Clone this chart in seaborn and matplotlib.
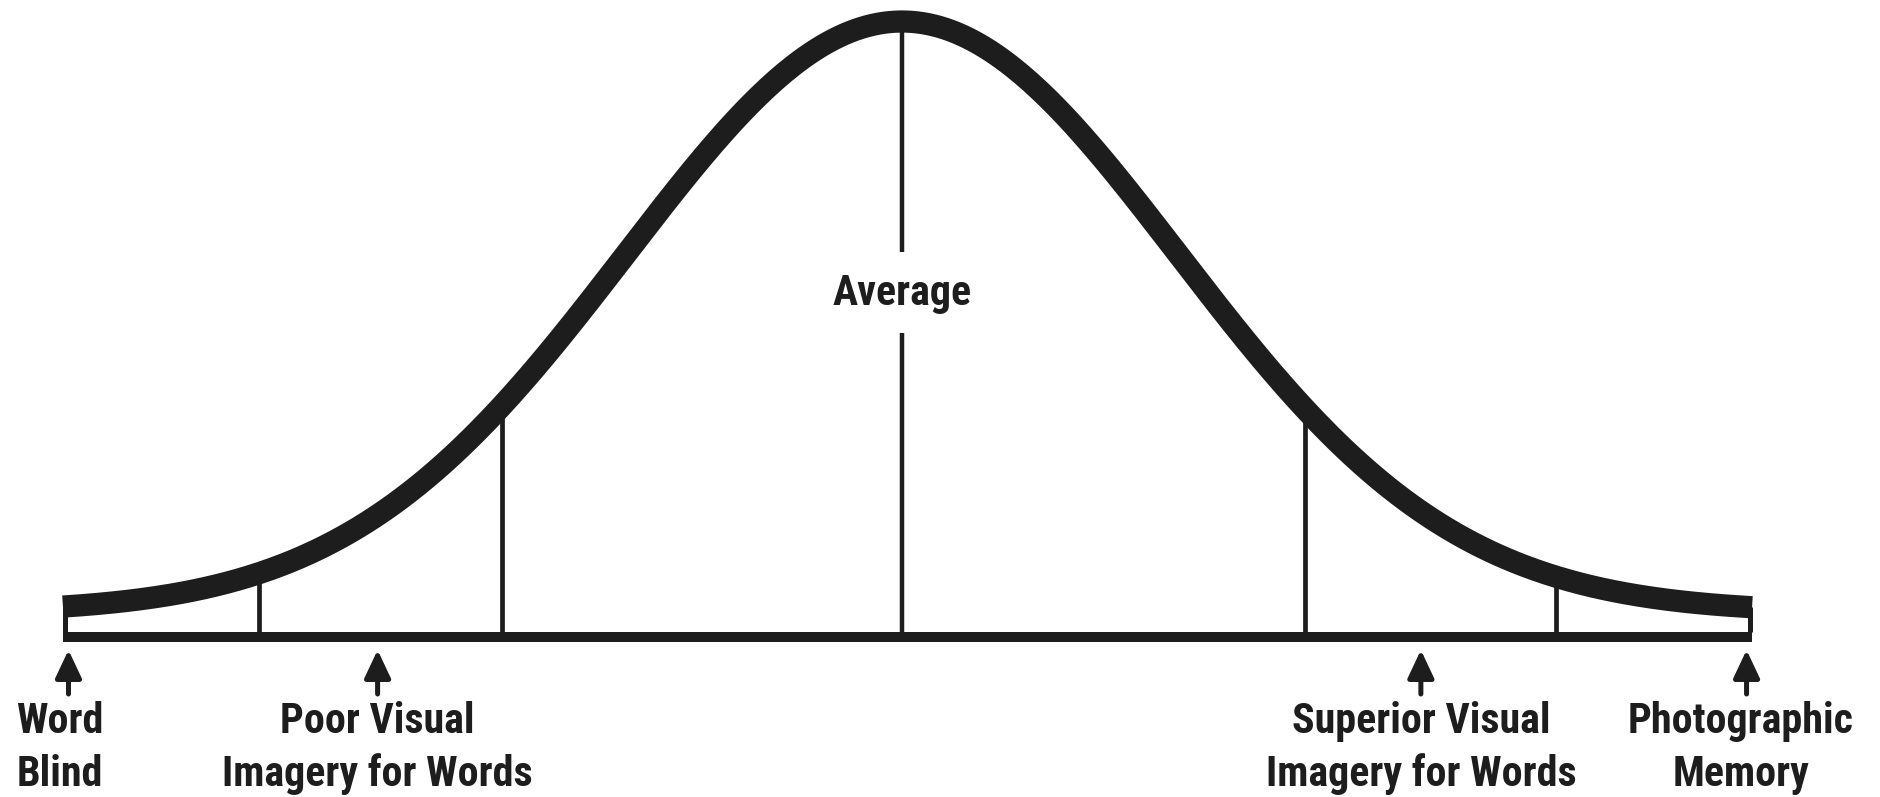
import numpy as np
import pandas as pd
import matplotlib.pyplot as plt
import seaborn as sns
from matplotlib import font_manager
from matplotlib.patches import ArrowStyle

sns.set_theme(style="white")

# bell curve, x in SD units
curve_mean = 0.0
curve_sd = 1.0
curve_ends = [-3.04, 3.08]      # where the thick curve is cut off
curve_floor = 0.04              # the tails stay a little above the baseline

# thin dividers under the curve
divider_z = [-2.33, -1.45, 1.46, 2.37]

# arrows and labels under the baseline
arrow_z = [-3.02, -1.90, 1.88, 3.06]
label_z = [-3.05, -1.90, 1.88, 3.04]
label_lines = [
    ["Word", "Blind"],
    ["Poor Visual", "Imagery for Words"],
    ["Superior Visual", "Imagery for Words"],
    ["Photographic", "Memory"],
]
center_label = "Average"

INK = "#1d1d1d"

# pixel geometry of the original picture
W, H = 1881, 797
PX_PER_SD = 276.0
CENTER_COL = 902.0
BASE_ROW = 637.0
PEAK_H = 615.5


def row(r):
    # picture row (from top) -> data y (baseline = 0, peak = 1)
    return (BASE_ROW - r) / PEAK_H


def bell(z):
    g = np.exp(-0.5 * ((z - curve_mean) / curve_sd) ** 2)
    return curve_floor + (1 - curve_floor) * g


# a narrow bold sans, like the original; needs a real bold face
bold_faces = {f.name for f in font_manager.fontManager.ttflist
              if f.weight in (700, "bold") and f.style == "normal"}
font = "Liberation Sans"
for cand in ["Liberation Sans Narrow", "Roboto Condensed", "Archivo Narrow",
             "PT Sans Narrow", "Pragati Narrow", "Fira Sans Condensed"]:
    if cand in bold_faces:
        font = cand
        break

fig = plt.figure(figsize=(W / 100, H / 100), dpi=100)
ax = fig.add_axes([0, 0, 1, 1])
ax.set_xlim(-CENTER_COL / PX_PER_SD, (W - CENTER_COL) / PX_PER_SD)
ax.set_ylim(row(H), row(0))
ax.axis("off")

# size the type so the longest label is as wide as in the original (~311 px)
probe = fig.text(0, 0, "Imagery for Words", fontsize=30, fontweight="bold", family=font)
width = probe.get_window_extent(fig.canvas.get_renderer()).width
probe.remove()
fsize = 30 * 311 / width

# the curve
zs = np.linspace(curve_ends[0], curve_ends[1], 600)
df = pd.DataFrame({"z": zs, "h": bell(zs)})
sns.lineplot(data=df, x="z", y="h", ax=ax, color=INK, lw=16,
             solid_capstyle="butt", solid_joinstyle="round", sort=False)

# baseline
ax.plot(curve_ends, [0, 0], color=INK, lw=7.2, solid_capstyle="butt")

# end posts (kept inside the cut ends) and dividers
base_top = row(632)
inset = 2.5 / PX_PER_SD
ax.vlines(curve_ends[0] + inset, base_top, bell(curve_ends[0]), color=INK, lw=3.6)
ax.vlines(curve_ends[1] - inset, base_top, bell(curve_ends[1]), color=INK, lw=3.6)
for z in divider_z:
    ax.vlines(z, base_top, bell(z), color=INK, lw=3.4)

# centre line with a gap for the label
ax.vlines(curve_mean, base_top, row(333), color=INK, lw=3.2)
ax.vlines(curve_mean, row(252), bell(curve_mean), color=INK, lw=3.2)
ax.text(curve_mean, row(305), center_label, ha="center", va="baseline",
        fontsize=fsize, fontweight="bold", family=font, color=INK)

# arrows + labels
style = ArrowStyle("-|>", head_length=0.85, head_width=0.4)
for z, lz, lines in zip(arrow_z, label_z, label_lines):
    ax.annotate("", xy=(z, row(650)), xytext=(z, row(694)),
                arrowprops=dict(arrowstyle=style, mutation_scale=20,
                                color=INK, lw=3.6, shrinkA=0, shrinkB=0))
    for txt, r in zip(lines, [733, 786]):
        ax.text(lz, row(r), txt, ha="center", va="baseline",
                fontsize=fsize, fontweight="bold", family=font, color=INK)

fig.savefig("out.png", dpi=100)
